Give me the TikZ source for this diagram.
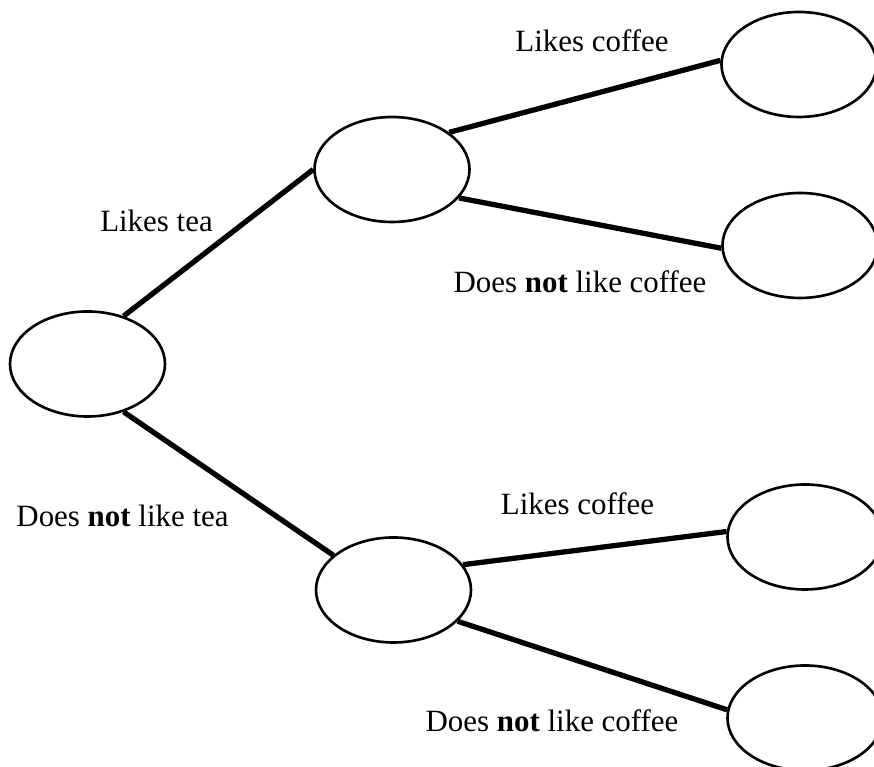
\documentclass[tikz,border=0pt]{standalone}
\usepackage{fontspec}
\setmainfont{Liberation Serif}
\usetikzlibrary{shapes, positioning}

\tikzset{
    state/.style={ellipse, draw, line width=1.5pt, minimum width=3.1cm, minimum height=2.1cm, inner sep=0pt},
    branch/.style={line width=3pt},
    lbl/.style={anchor=base, inner sep=0pt, font=\fontsize{17.6}{21}\selectfont}
}

\begin{document}
\begin{tikzpicture}
            \useasboundingbox (0, 0) rectangle (17.48, 15.34);

            \node[state] (root) at (1.75, 8.06) {};
            \node[state] (tea) at (7.84, 11.95) {};
            \node[state] (notea) at (7.87, 3.54) {};
            \node[state] (teacoffee) at (15.98, 14.05) {};
            \node[state] (teanocoffee) at (16.0, 10.43) {};
            \node[state] (noteacoffee) at (16.1, 4.6) {};
            \node[state] (noteanocoffee) at (16.1, 0.98) {};

            \node[lbl] (liketea) at (3.13, 10.70) {Likes tea};
            \node[lbl] (disliketea) at (2.45, 4.8) {Does \textbf{not} like tea};
            \node[lbl] (likecoffee1) at (11.84, 14.30) {Likes coffee};
            \node[lbl] (dislikecoffee1) at (11.6, 9.48) {Does \textbf{not} like coffee};
            \node[lbl] (likecoffee2) at (11.55, 5.04) {Likes coffee};
            \node[lbl] (dislikecoffee2) at (11.04, 0.70) {Does \textbf{not} like coffee};

            \draw[branch] (root.53) -- (tea.180);
            \draw[branch] (root.-53) -- (notea.150);
            \draw[branch] (tea.33) -- (teacoffee.177);
            \draw[branch] (tea.-23) -- (teanocoffee.-178);
            \draw[branch] (notea.20) -- (noteacoffee.176);
            \draw[branch] (notea.-26) -- (noteanocoffee.174);
        \end{tikzpicture}
\end{document}
